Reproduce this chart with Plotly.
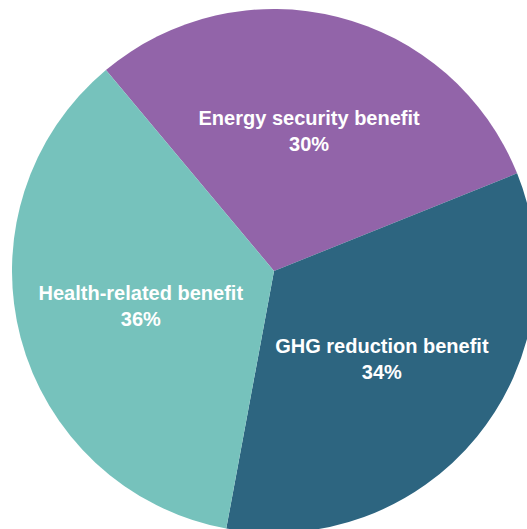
import plotly.graph_objects as go

labels = ["Energy security benefit", "GHG reduction benefit", "Health-related benefit"]
values = [30, 34, 36]
colors = ["#9264A9", "#2D6580", "#76C2BC"]

W, H = 548, 542

fig = go.Figure(go.Pie(
    labels=labels,
    values=values,
    sort=False,
    direction="clockwise",
    rotation=-39.9,
    marker=dict(colors=colors, line=dict(width=0)),
    textinfo="label+percent",
    texttemplate="%{label}<br>%{percent:.0%}",
    textposition="inside",
    insidetextorientation="horizontal",
    textfont=dict(family="Liberation Sans, Arial, sans-serif", size=20, color="white", weight="bold"),
    hoverinfo="skip",
    showlegend=False,
))

fig.update_layout(
    width=W, height=H,
    margin=dict(l=12, r=W - 536, t=9, b=H - 533, autoexpand=False),
    paper_bgcolor="white",
    plot_bgcolor="white",
    uniformtext=dict(mode=False),
)

fig.write_html(
    "out.html",
    post_script="document.documentElement.style.overflow='hidden';document.body.style.overflow='hidden';document.body.style.margin='0';",
)
